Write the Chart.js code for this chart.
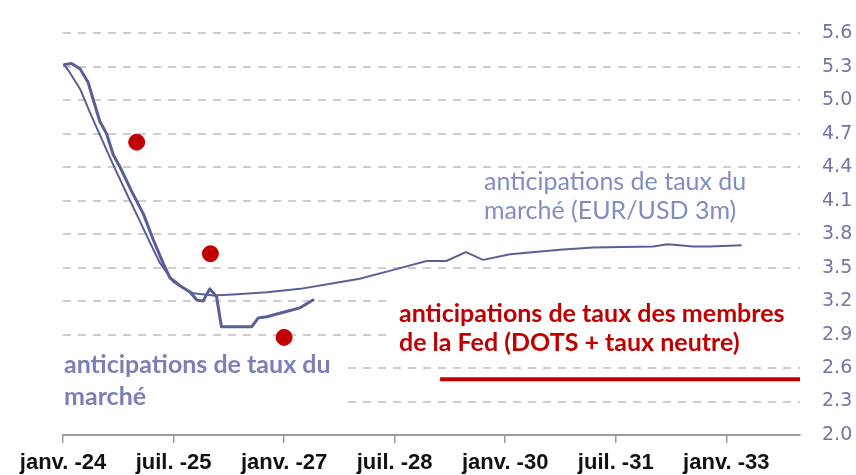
<!DOCTYPE html>
<html>
<head>
<meta charset="utf-8">
<script src="https://cdn.jsdelivr.net/npm/chart.js@4"></script>
<style>
html,body{margin:0;padding:0;background:#fff;}
#wrap{width:856px;height:475px;}
</style>
</head>
<body>
<div id="wrap"><canvas id="c" width="856" height="475"></canvas></div>
<script>
// months since Jan 2024
const xTickValues = [0, 18, 36, 54, 72, 90, 108];
const xTickLabels = ["janv. -24", "juil. -25", "janv. -27", "juil. -28", "janv. -30", "juil. -31", "janv. -33"];
const yTickValues = [2.0, 2.3, 2.6, 2.9, 3.2, 3.5, 3.8, 4.1, 4.4, 4.7, 5.0, 5.3, 5.6];

// market expectations (short series, thick)
const futMonths = [0.2,1.4,2.8,4.1,4.9,6.0,7.1,8.2,9.3,11.4,13.1,14.7,16.3,17.4,19.0,20.7,21.8,22.8,23.9,25.0,25.8,30.7,31.8,33.2,35.9,38.6,40.7];
const futValues = [5.32,5.33,5.28,5.16,5.01,4.81,4.70,4.51,4.40,4.16,3.98,3.75,3.54,3.41,3.34,3.28,3.21,3.20,3.31,3.24,2.97,2.97,3.05,3.06,3.10,3.14,3.21];

// market expectations EUR/USD 3m (long series)
const fwdMonths = [0.2,1.1,2.8,4.4,6.0,8.2,10.4,12.5,14.2,15.8,18.0,21.2,24.5,27.7,33.2,38.6,44.0,48.3,53.8,59.2,62.4,65.6,68.4,72.8,80.9,86.3,96.1,98.5,102.6,105.3,110.5];
const fwdValues = [5.32,5.25,5.10,4.89,4.69,4.42,4.16,3.92,3.72,3.54,3.37,3.27,3.25,3.26,3.28,3.31,3.36,3.40,3.48,3.56,3.56,3.64,3.57,3.62,3.66,3.68,3.69,3.71,3.69,3.69,3.70];

// Fed dots
const dotMonths = [12, 24, 36];
const dotValues = [4.625, 3.625, 2.875];

// neutral rate
const neutralMonths = [61.4, 120];
const neutralValues = [2.5, 2.5];

const pts = (xs, ys) => xs.map((x, i) => ({x: x, y: ys[i]}));

const bgPlugin = {
  id: 'bg',
  beforeDraw(chart) {
    const ctx = chart.ctx;
    ctx.save();
    ctx.fillStyle = '#fff';
    ctx.fillRect(0, 0, chart.width, chart.height);
    ctx.restore();
  }
};

const boxPlugin = {
  id: 'boxes',
  beforeDatasetsDraw(chart) {
    const ctx = chart.ctx;
    ctx.save();
    ctx.fillStyle = '#fff';
    ctx.fillRect(478, 170, 330, 58);
    ctx.fillRect(393, 285, 415, 70);
    ctx.fillRect(58, 350, 284, 66);
    ctx.restore();
  }
};

const textPlugin = {
  id: 'texts',
  afterDraw(chart) {
    const ctx = chart.ctx;
    ctx.save();
    ctx.textBaseline = 'alphabetic';
    ctx.textAlign = 'left';
    ctx.fillStyle = '#7f8dc2';
    ctx.font = '25px Lato';
    ctx.fillText('anticipations de taux du', 484, 190);
    ctx.fillText('marché (EUR/USD 3m)', 484, 219);
    ctx.fillStyle = '#c00000';
    ctx.font = 'bold 25px Lato';
    ctx.fillText('anticipations de taux des membres', 399, 322);
    ctx.fillText('de la Fed (DOTS + taux neutre)', 399, 351);
    ctx.fillStyle = '#7a7fb8';
    ctx.font = 'bold 25px Lato';
    ctx.fillText('anticipations de taux du', 64, 373);
    ctx.fillText('marché', 64, 405);
    ctx.restore();
  }
};

new Chart(document.getElementById('c'), {
  type: 'line',
  data: {
    datasets: [
      {data: pts(neutralMonths, neutralValues), borderColor: '#c00000', borderWidth: 4, pointRadius: 0, borderCapStyle: 'butt'},
      {data: pts(fwdMonths, fwdValues), borderColor: '#5b5f98', borderWidth: 2, pointRadius: 0, borderJoinStyle: 'round', tension: 0},
      {data: pts(futMonths, futValues), borderColor: '#5a5e96', borderWidth: 3, pointRadius: 0, borderJoinStyle: 'round', borderCapStyle: 'round', tension: 0},
      {type: 'scatter', data: pts(dotMonths, dotValues), backgroundColor: '#c00000', borderColor: '#c00000', pointRadius: 8, showLine: false}
    ]
  },
  options: {
    responsive: false,
    animation: false,
    devicePixelRatio: 1,
    layout: {padding: {left: 63, top: 27, right: 0, bottom: 0}},
    plugins: {legend: {display: false}, tooltip: {enabled: false}},
    scales: {
      x: {
        type: 'linear', position: 'bottom', min: 0, max: 120,
        afterBuildTicks(scale) { scale.ticks = xTickValues.map(v => ({value: v})); },
        afterFit(scale) { scale.height = 40; },
        ticks: {
          autoSkip: false, maxRotation: 0, minRotation: 0, padding: 7,
          color: '#111', font: {family: 'Liberation Sans', weight: 'bold', size: 22},
          callback(v) { const i = xTickValues.indexOf(v); return i >= 0 ? xTickLabels[i] : ''; }
        },
        grid: {display: true, drawOnChartArea: false, drawTicks: true, tickLength: 8, color: '#9a9a9a', lineWidth: 1.5},
        border: {display: true, color: '#9a9a9a', width: 2}
      },
      y: {
        type: 'linear', position: 'right', min: 2.0, max: 5.6,
        afterBuildTicks(scale) { scale.ticks = yTickValues.map(v => ({value: v})); },
        afterFit(scale) { scale.width = 56; },
        ticks: {
          padding: 22, color: '#7076a8', font: {family: 'DejaVu Sans', size: 19},
          callback(v) { return Number(v).toFixed(1); }
        },
        grid: {
          drawTicks: false, lineWidth: 2,
          color(ctx) { return (ctx.tick && Math.abs(ctx.tick.value - 2.0) < 1e-6) ? 'rgba(0,0,0,0)' : '#cdcdcd'; }
        },
        border: {display: false, dash: [8, 7]}
      }
    }
  },
  plugins: [bgPlugin, boxPlugin, textPlugin]
});
</script>
</body>
</html>
